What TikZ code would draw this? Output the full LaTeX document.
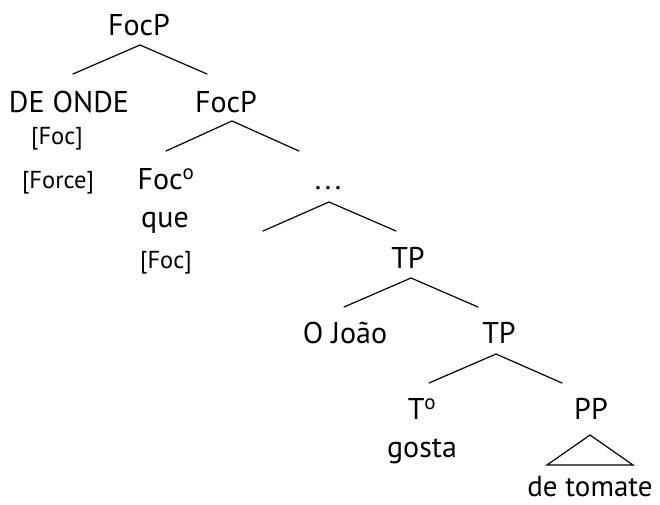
\documentclass[tikz,border=0pt]{standalone}
\usepackage{fontspec}
\setmainfont{PT Sans}
\begin{document}
\begin{tikzpicture}[x=1pt,y=-1pt,
  lbl/.style={anchor=base,inner sep=0pt,font=\fontsize{30}{36}\selectfont},
  feat/.style={anchor=base,inner sep=0pt,font=\fontsize{24.5}{29}\selectfont},
  branch/.style={line width=1.2pt,line cap=round}]
\useasboundingbox (0,0) rectangle (660,504);
% labels
\node[lbl]  (root)   at (139,35)  {FocP};
\node[lbl]  (deonde) at (69,112)  {DE ONDE};
\node[lbl]  (focp2)  at (226,112) {FocP};
\node[feat] (foca)   at (57,144)  {[Foc]};
\node[feat] (force)  at (58,188)  {[Force]};
\node[lbl]  (foch)   at (166,189) {Foc\textsuperscript{o}};
\node[lbl]  (que)    at (165,227) {que};
\node[feat] (focb)   at (166,268) {[Foc]};
\node[lbl]  (dots)   at (328,189) {.\hspace{0.12em}.\hspace{0.12em}.};
\node[lbl]  (tp1)    at (408,268) {TP};
\node[lbl]  (joao)   at (345,343) {O João};
\node[lbl]  (tp2)    at (499,343) {TP};
\node[lbl]  (th)     at (422,419) {T\textsuperscript{o}};
\node[lbl]  (gosta)  at (422,457) {gosta};
\node[lbl]  (pp)     at (591,419) {PP};
\node[lbl,font=\fontsize{29}{35}\selectfont] (tomate) at (590,496) {de tomate};
% branch points
\coordinate (a1) at (140,45);  \coordinate (l1) at (73,74);   \coordinate (r1) at (207,74);
\coordinate (a2) at (232,121); \coordinate (l2) at (166,151); \coordinate (r2) at (299,151);
\coordinate (a3) at (329,202); \coordinate (l3) at (263,231); \coordinate (r3) at (396,231);
\coordinate (a4) at (411,278); \coordinate (l4) at (344,307); \coordinate (r4) at (478,307);
\coordinate (a5) at (496,354); \coordinate (l5) at (429,383); \coordinate (r5) at (562,383);
\coordinate (a6) at (590,435); \coordinate (l6) at (547,465); \coordinate (r6) at (633,465);
\draw[branch] (l1) -- (a1) -- (r1);
\draw[branch] (l2) -- (a2) -- (r2);
\draw[branch] (l3) -- (a3) -- (r3);
\draw[branch] (l4) -- (a4) -- (r4);
\draw[branch] (l5) -- (a5) -- (r5);
\draw[branch] (l6) -- (a6) -- (r6) -- cycle;
\end{tikzpicture}
\end{document}
